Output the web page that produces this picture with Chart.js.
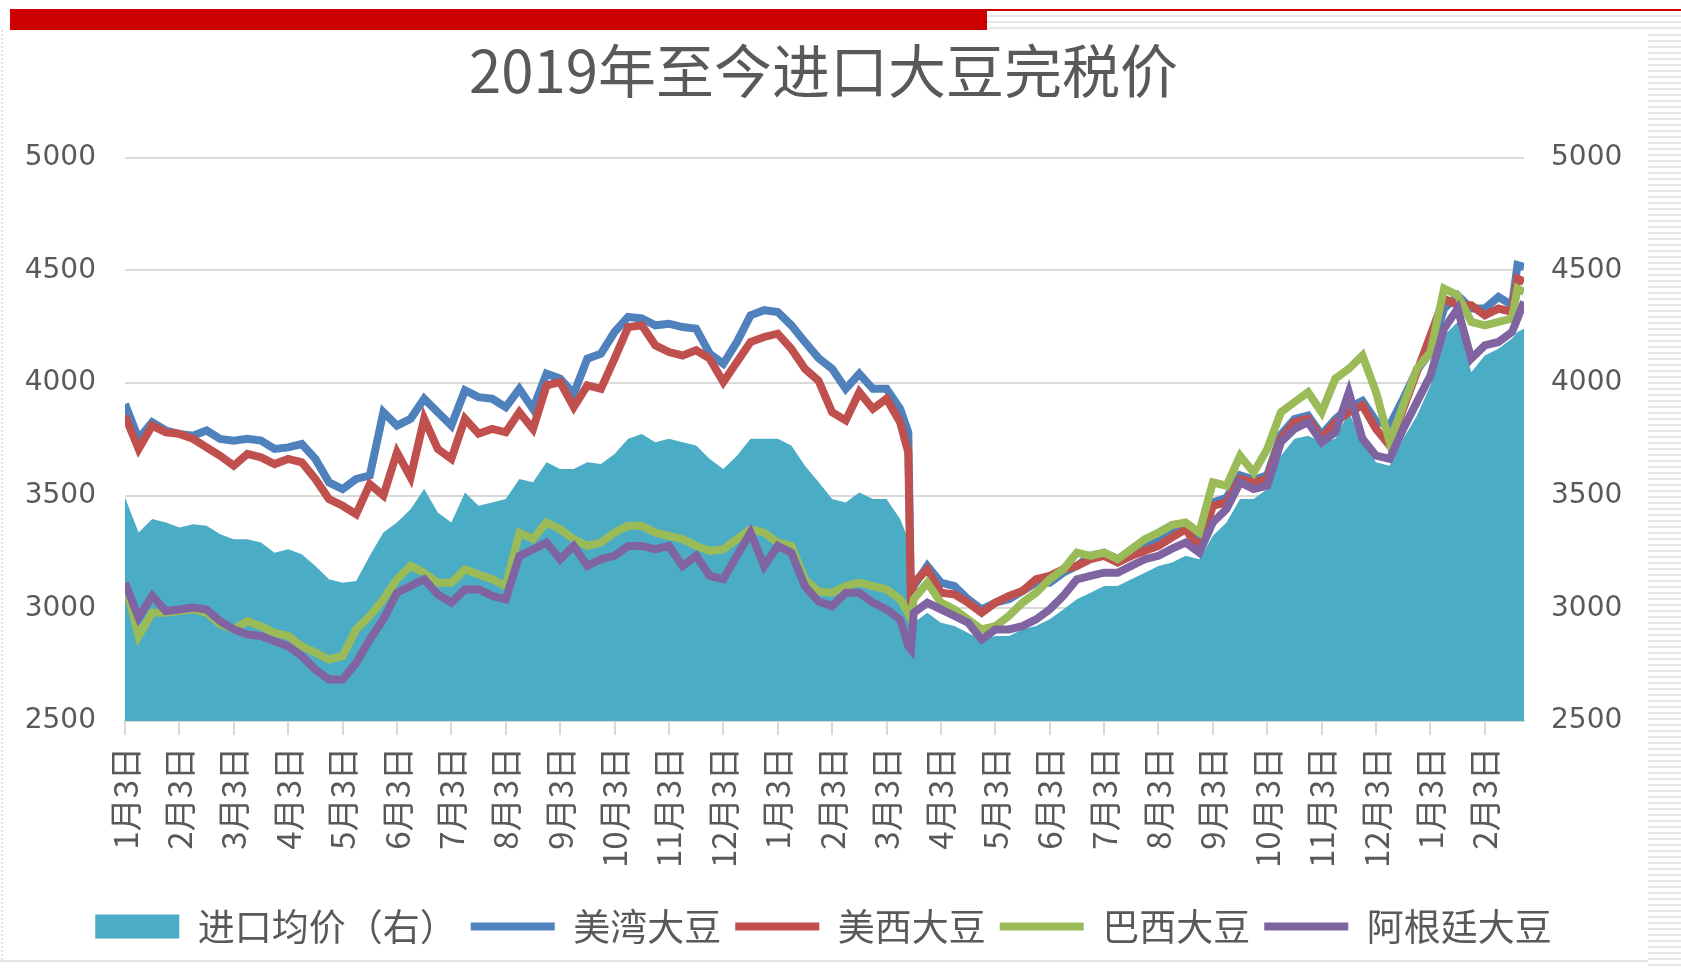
<!DOCTYPE html>
<html>
<head>
<meta charset="utf-8">
<script src="https://cdn.jsdelivr.net/npm/chart.js@4"></script>
<style>
  body { margin: 0; background: #fff; width: 1681px; height: 969px; overflow: hidden; position: relative; }
  .redbar { position: absolute; left: 10px; top: 9px; width: 977px; height: 21px; background: #cc0000; }
  .redline { position: absolute; left: 987px; top: 9px; width: 694px; height: 2px; background: #cc0000; }
  .stripes-top { position: absolute; left: 987px; top: 11px; width: 694px; height: 19px;
    background: repeating-linear-gradient(#fff 0 4px, #e6e6e6 4px 6px); }
  .stripes-right { position: absolute; left: 1648px; top: 30px; width: 33px; height: 939px;
    background: repeating-linear-gradient(#fff 0 4px, #e6e6e6 4px 6px); }
  .leftedge { position: absolute; left: 1px; top: 30px; width: 0; height: 930px; border-left: 2px dotted #e0e0e0; }
  .bottomline { position: absolute; left: 0; top: 960px; width: 1648px; height: 2px; background: #e3e3e3; }
  #wrap { position: absolute; left: 0; top: 30px; width: 1648px; height: 930px; }
</style>
</head>
<body>
<div class="redbar"></div>
<div class="redline"></div>
<div class="stripes-top"></div>
<div class="stripes-right"></div>
<div class="leftedge"></div>
<div class="bottomline"></div>
<div id="wrap"><canvas id="myChart"></canvas></div>
<script>
// month labels on the date axis (Jan 2019 .. Feb 2021)
const tickLabels = [
  '1月3日', '2月3日', '3月3日', '4月3日', '5月3日', '6月3日',
  '7月3日', '8月3日', '9月3日', '10月3日', '11月3日', '12月3日',
  '1月3日', '2月3日', '3月3日', '4月3日', '5月3日', '6月3日',
  '7月3日', '8月3日', '9月3日', '10月3日', '11月3日', '12月3日',
  '1月3日', '2月3日'
];

// sample dates, in months after 2019-01-03
const monthPos = [
  0, 0.25, 0.5, 0.75, 1, 1.25, 1.5, 1.75, 2, 2.25, 2.5, 2.75,
  3, 3.25, 3.5, 3.75, 4, 4.25, 4.5, 4.75, 5, 5.25, 5.5, 5.75,
  6, 6.25, 6.5, 6.75, 7, 7.25, 7.5, 7.75, 8, 8.25, 8.5, 8.75,
  9, 9.25, 9.5, 9.75, 10, 10.25, 10.5, 10.75, 11, 11.25, 11.5, 11.75,
  12, 12.25, 12.5, 12.75, 13, 13.25, 13.5, 13.75, 14, 14.25, 14.4, 14.45, 14.5, 14.75,
  15, 15.25, 15.5, 15.75, 16, 16.25, 16.5, 16.75, 17, 17.25, 17.5, 17.75,
  18, 18.25, 18.5, 18.75, 19, 19.25, 19.5, 19.75, 20, 20.25, 20.5, 20.75,
  21, 21.25, 21.5, 21.75, 22, 22.25, 22.5, 22.75, 23, 23.25, 23.5, 23.75,
  24, 24.25, 24.5, 24.75, 25, 25.25, 25.5, 25.6, 25.72
];

// 进口均价（右）
const importAvg = [
  3492, 3336, 3396, 3381, 3359, 3373, 3366, 3329, 3307, 3307, 3292, 3247,
  3262, 3240, 3188, 3129, 3114, 3121, 3233, 3336, 3381, 3440, 3529, 3425,
  3381, 3514, 3455, 3470, 3485, 3574, 3559, 3648, 3618, 3618, 3648, 3640,
  3685, 3752, 3774, 3737, 3752, 3737, 3722, 3663, 3618, 3677, 3752, 3752,
  3752, 3722, 3633, 3560, 3485, 3470, 3514, 3485, 3485, 3396, 3307, 2850, 2936, 2980,
  2936, 2921, 2891, 2862, 2877, 2877, 2906, 2921, 2951, 2995, 3040, 3069,
  3099, 3099, 3129, 3158, 3188, 3203, 3233, 3218, 3322, 3381, 3485, 3485,
  3529, 3677, 3752, 3766, 3737, 3752, 3870, 3737, 3648, 3633, 3752, 3855,
  3989, 4211, 4271, 4048, 4122, 4152, 4197, 4226, 4241
];

// 美湾大豆
const usGulf = [
  3907, 3752, 3826, 3789, 3774, 3766, 3789, 3752, 3744, 3752, 3744, 3707,
  3714, 3729, 3663, 3559, 3529, 3574, 3589, 3870, 3811, 3841, 3930, 3870,
  3811, 3967, 3937, 3930, 3893, 3974, 3885, 4041, 4019, 3952, 4108, 4130,
  4226, 4293, 4286, 4256, 4263, 4248, 4241, 4130, 4085, 4182, 4300, 4323,
  4315, 4256, 4182, 4110, 4063, 3974, 4041, 3974, 3974, 3885, 3781, 3050, 3099, 3188,
  3114, 3099, 3040, 2995, 3025, 3040, 3077, 3114, 3114, 3158, 3188, 3233,
  3247, 3218, 3233, 3277, 3307, 3336, 3360, 3300, 3470, 3490, 3590, 3570,
  3590, 3770, 3840, 3855, 3770, 3840, 3890, 3920, 3830, 3811, 3930, 4056,
  4137, 4330, 4389, 4330, 4330, 4382, 4345, 4523, 4515
];

// 美西大豆
const usWest = [
  3855, 3707, 3811, 3781, 3774, 3752, 3714, 3677, 3633, 3685, 3670, 3640,
  3663, 3648, 3574, 3485, 3455, 3418, 3551, 3500, 3692, 3581, 3841, 3707,
  3663, 3841, 3775, 3796, 3781, 3870, 3796, 3989, 4004, 3893, 3989, 3974,
  4108, 4248, 4256, 4167, 4137, 4122, 4145, 4108, 4004, 4093, 4182, 4204,
  4219, 4152, 4063, 4010, 3870, 3834, 3959, 3885, 3930, 3826, 3692, 3010, 3114, 3173,
  3069, 3062, 3025, 2980, 3025, 3055, 3077, 3129, 3144, 3173, 3188, 3218,
  3233, 3203, 3233, 3255, 3277, 3315, 3351, 3262, 3455, 3470, 3574, 3559,
  3574, 3752, 3826, 3841, 3752, 3826, 3870, 3900, 3796, 3722, 3885, 4048,
  4211, 4374, 4345, 4345, 4300, 4330, 4315, 4463, 4449
];

// 巴西大豆
const brazil = [
  3114, 2877, 2980, 2980, 2988, 2995, 2980, 2929, 2906, 2943, 2921, 2891,
  2877, 2832, 2803, 2773, 2788, 2906, 2966, 3040, 3129, 3188, 3158, 3114,
  3114, 3173, 3150, 3129, 3099, 3336, 3307, 3381, 3351, 3307, 3277, 3292,
  3336, 3366, 3366, 3336, 3321, 3307, 3277, 3255, 3262, 3307, 3351, 3336,
  3292, 3277, 3129, 3075, 3069, 3099, 3114, 3099, 3084, 3040, 2980, 2951, 3040, 3114,
  3025, 2995, 2951, 2906, 2921, 2966, 3025, 3069, 3129, 3173, 3247, 3233,
  3247, 3218, 3262, 3307, 3336, 3370, 3381, 3336, 3559, 3544, 3677, 3603,
  3707, 3870, 3915, 3959, 3870, 4019, 4063, 4122, 3959, 3737, 3900, 4063,
  4137, 4419, 4389, 4271, 4256, 4271, 4286, 4419, 4404
];

// 阿根廷大豆
const argentina = [
  3114, 2958, 3055, 2988, 2995, 3003, 2995, 2943, 2906, 2884, 2877, 2854,
  2832, 2788, 2728, 2684, 2684, 2758, 2862, 2951, 3069, 3099, 3129, 3062,
  3025, 3084, 3085, 3055, 3040, 3233, 3262, 3292, 3218, 3277, 3188, 3218,
  3233, 3277, 3277, 3262, 3277, 3188, 3233, 3144, 3129, 3233, 3336, 3188,
  3277, 3247, 3099, 3030, 3010, 3069, 3069, 3025, 2995, 2951, 2832, 2817, 2980, 3025,
  2995, 2966, 2936, 2862, 2906, 2906, 2921, 2951, 2995, 3055, 3129, 3144,
  3158, 3158, 3188, 3218, 3233, 3265, 3292, 3247, 3381, 3440, 3559, 3529,
  3544, 3737, 3796, 3826, 3737, 3781, 3959, 3752, 3677, 3663, 3796, 3915,
  4033, 4241, 4330, 4108, 4167, 4182, 4226, 4286, 4360
];

const toPoints = (values) => monthPos.map((x, i) => ({ x: x, y: values[i] }));

const lineSet = (label, values, color, order) => ({
  type: 'line',
  label: label,
  data: toPoints(values),
  borderColor: color,
  backgroundColor: color,
  borderWidth: 8,
  pointRadius: 0,
  pointHoverRadius: 0,
  tension: 0,
  fill: false,
  yAxisID: 'y',
  order: order
});

const data = {
  datasets: [
    {
      type: 'line',
      label: '进口均价（右）',
      data: toPoints(importAvg),
      borderWidth: 0,
      borderColor: '#4bacc6',
      backgroundColor: '#4bacc6',
      pointRadius: 0,
      pointHoverRadius: 0,
      tension: 0,
      fill: 'start',
      yAxisID: 'y1',
      order: 5
    },
    lineSet('美湾大豆', usGulf, '#4f81bd', 4),
    lineSet('美西大豆', usWest, '#c0504d', 3),
    lineSet('巴西大豆', brazil, '#9bbb59', 2),
    lineSet('阿根廷大豆', argentina, '#8064a2', 1)
  ]
};

const cjk = "'Noto Sans CJK SC', 'Noto Sans', sans-serif";
const textColor = '#595959';
const numFont = { family: "'DejaVu Sans', sans-serif", size: 28 };

const config = {
  type: 'line',
  data,
  options: {
    responsive: true,
    maintainAspectRatio: false,
    animation: false,
    layout: { padding: { left: 25, right: 26, top: 0, bottom: 5 } },
    plugins: {
      tooltip: { enabled: false },
      title: {
        display: true,
        text: '2019年至今进口大豆完税价',
        color: textColor,
        font: { family: cjk, size: 58, weight: 'normal' },
        padding: { top: 6, bottom: 52 }
      },
      legend: {
        position: 'bottom',
        labels: {
          usePointStyle: true,
          pointStyleWidth: 84,
          boxHeight: 24,
          padding: 14,
          color: textColor,
          font: { family: cjk, size: 37 },
          generateLabels: (chart) => chart.data.datasets.map((ds, i) => ({
            text: ds.label,
            fillStyle: ds.backgroundColor,
            strokeStyle: ds.borderColor,
            lineWidth: i === 0 ? 0 : 8,
            pointStyle: i === 0 ? 'rect' : 'line',
            fontColor: textColor,
            hidden: false,
            datasetIndex: i
          }))
        }
      }
    },
    scales: {
      x: {
        type: 'linear',
        min: 0,
        max: 25.72,
        afterBuildTicks: (scale) => {
          scale.ticks = tickLabels.map((_, i) => ({ value: i }));
        },
        afterFit: (scale) => { scale.height = 173; },
        grid: { display: true, drawOnChartArea: false, tickLength: 14, color: '#d9d9d9', lineWidth: 2 },
        border: { display: true, color: '#d9d9d9', width: 2 },
        ticks: {
          autoSkip: false,
          maxRotation: 90,
          minRotation: 90,
          padding: 12,
          color: textColor,
          font: { family: cjk, size: 33 },
          callback: (value) => tickLabels[value] ?? ''
        }
      },
      y: {
        position: 'left',
        min: 2500,
        max: 5000,
        afterFit: (scale) => { scale.width = 100; },
        grid: { color: '#d9d9d9', lineWidth: 2, drawTicks: false },
        border: { display: false },
        ticks: {
          stepSize: 500,
          padding: 29,
          color: textColor,
          font: numFont,
          callback: (value) => String(value)
        }
      },
      y1: {
        position: 'right',
        min: 2500,
        max: 5000,
        afterFit: (scale) => { scale.width = 98; },
        grid: { display: false, drawTicks: false },
        border: { display: false },
        ticks: {
          stepSize: 500,
          padding: 27,
          color: textColor,
          font: numFont,
          callback: (value) => String(value)
        }
      }
    }
  }
};

var myChart = new Chart(
  document.getElementById('myChart'),
  config
);
</script>
</body>
</html>
